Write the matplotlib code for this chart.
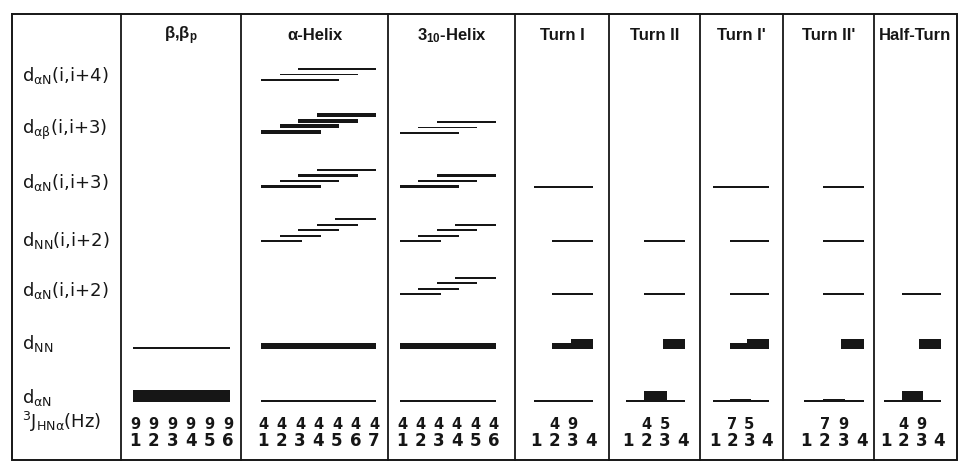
import matplotlib
matplotlib.use("Agg")
import matplotlib.pyplot as plt

plt.rcParams['font.family'] = ['DejaVu Sans']
plt.rcParams['mathtext.default'] = 'regular'

# Column headers and residue counts
columns = [r'β,β$_p$', 'α-Helix', r'3$_{10}$-Helix', 'Turn I', 'Turn II',
           "Turn I'", "Turn II'", 'Half-Turn']
n_residues = [6, 7, 6, 4, 4, 4, 4, 4]

# 3J(HN-alpha) values above residue numbers ('' = not given)
j_values = [
    ['9', '9', '9', '9', '9', '9'],
    ['4', '4', '4', '4', '4', '4', '4'],
    ['4', '4', '4', '4', '4', '4'],
    ['', '4', '9', ''],
    ['', '4', '5', ''],
    ['', '7', '5', ''],
    ['', '7', '9', ''],
    ['', '4', '9', ''],
]

# Row labels (NOE types)
row_labels = [r'd$_{\alpha N}$(i,i+4)', r'd$_{\alpha\beta}$(i,i+3)',
              r'd$_{\alpha N}$(i,i+3)', r'd$_{NN}$(i,i+2)',
              r'd$_{\alpha N}$(i,i+2)', r'd$_{NN}$', r'd$_{\alpha N}$']

# NOE segments per column: (row, from residue, to residue, intensity level)
noes = [
    [(5, 1, 6, 1), (6, 1, 6, 7)],
    [(0, 1, 5, 1), (0, 2, 6, 1), (0, 3, 7, 1),
     (1, 1, 4, 3), (1, 2, 5, 3), (1, 3, 6, 3), (1, 4, 7, 3),
     (2, 1, 4, 2), (2, 2, 5, 2), (2, 3, 6, 2), (2, 4, 7, 2),
     (3, 1, 3, 1), (3, 2, 4, 1), (3, 3, 5, 1), (3, 4, 6, 1), (3, 5, 7, 1),
     (5, 1, 7, 4), (6, 1, 7, 1)],
    [(1, 1, 4, 1), (1, 2, 5, 1), (1, 3, 6, 1),
     (2, 1, 4, 2), (2, 2, 5, 2), (2, 3, 6, 2),
     (3, 1, 3, 1), (3, 2, 4, 1), (3, 3, 5, 1), (3, 4, 6, 1),
     (4, 1, 3, 1), (4, 2, 4, 1), (4, 3, 5, 1), (4, 4, 6, 1),
     (5, 1, 6, 4), (6, 1, 6, 1)],
    [(2, 1, 4, 1), (3, 2, 4, 1), (4, 2, 4, 1),
     (5, 2, 3, 4), (5, 3, 4, 5), (6, 1, 4, 1)],
    [(3, 2, 4, 1), (4, 2, 4, 1),
     (5, 3, 4, 5), (6, 1, 4, 1), (6, 2, 3, 6)],
    [(2, 1, 4, 1), (3, 2, 4, 1), (4, 2, 4, 1),
     (5, 2, 3, 4), (5, 3, 4, 5), (6, 1, 4, 1), (6, 2, 3, 2)],
    [(2, 2, 4, 1), (3, 2, 4, 1), (4, 2, 4, 1),
     (5, 3, 4, 5), (6, 1, 4, 1), (6, 2, 3, 2)],
    [(4, 2, 4, 1), (5, 3, 4, 5), (6, 1, 4, 1), (6, 2, 3, 6)],
]

# ---- layout (pixel coordinates) ----
W, H = 963, 473
box_left, box_right, box_top, box_bottom = 12, 957, 14, 460
col_edges = [121, 241, 388, 515, 609, 700, 783, 874, 957]
first_res_x = [135, 263, 402, 536, 628, 715, 806, 886]
res_step = [18.6, 18.5, 18.3, 18.3, 18.3, 17.2, 18.7, 17.6]
row_base = [81, 134, 188, 242, 295, 349, 402]
row_label_y = [76, 130, 182, 240, 290, 343, 397]
stack_step = 5.5
thickness = {1: 1.7, 2: 2.8, 3: 4.2, 4: 6.5, 5: 10, 6: 11, 7: 12}
ink = '#161616'

fig = plt.figure(figsize=(W / 100, H / 100), dpi=100)
ax = fig.add_axes([0, 0, 1, 1])
ax.set_xlim(0, W)
ax.set_ylim(H, 0)
ax.axis('off')

# frame and column separators
ax.plot([box_left, box_right, box_right, box_left, box_left],
        [box_top, box_top, box_bottom, box_bottom, box_top],
        color=ink, lw=1.4, solid_joinstyle='miter')
for x in col_edges[:-1]:
    ax.plot([x, x], [box_top, box_bottom], color=ink, lw=1.3)

# row labels
for y, lab in zip(row_label_y, row_labels):
    ax.text(22, y, lab, fontsize=13, va='center', ha='left', color=ink)
ax.text(22, 422, r'$^3$J$_{HN\alpha}$(Hz)', fontsize=13, va='center',
        ha='left', color=ink)

for c, name in enumerate(columns):
    left, right = col_edges[c], col_edges[c + 1]
    ax.text((left + right) / 2, 36, name, fontsize=12, fontweight='bold',
            family='Liberation Sans', ha='center', va='center', color=ink)

    xs = [first_res_x[c] + k * res_step[c] for k in range(n_residues[c])]
    for k, x in enumerate(xs):
        ax.text(x, 441, str(k + 1), fontsize=12, fontweight='bold',
                ha='center', va='center', color=ink)
        if j_values[c][k]:
            ax.text(x, 424, j_values[c][k], fontsize=10.5, fontweight='bold',
                    ha='center', va='center', color=ink)

    # stack overlapping medium-range NOEs upward by start residue
    stack = {}
    for row, i, j, lvl in sorted(noes[c], key=lambda s: (s[0], s[1])):
        if row < 5:
            idx = stack.get(row, 0)
            stack[row] = idx + 1
        else:
            idx = 0
        base = row_base[row] - idx * stack_step
        h = thickness[lvl]
        x0 = xs[i - 1] - 2
        x1 = xs[j - 1] + 2
        ax.bar(x0, h, width=x1 - x0, bottom=base - h, align='edge',
               color=ink, linewidth=0)

fig.savefig('out.png', dpi=100)
